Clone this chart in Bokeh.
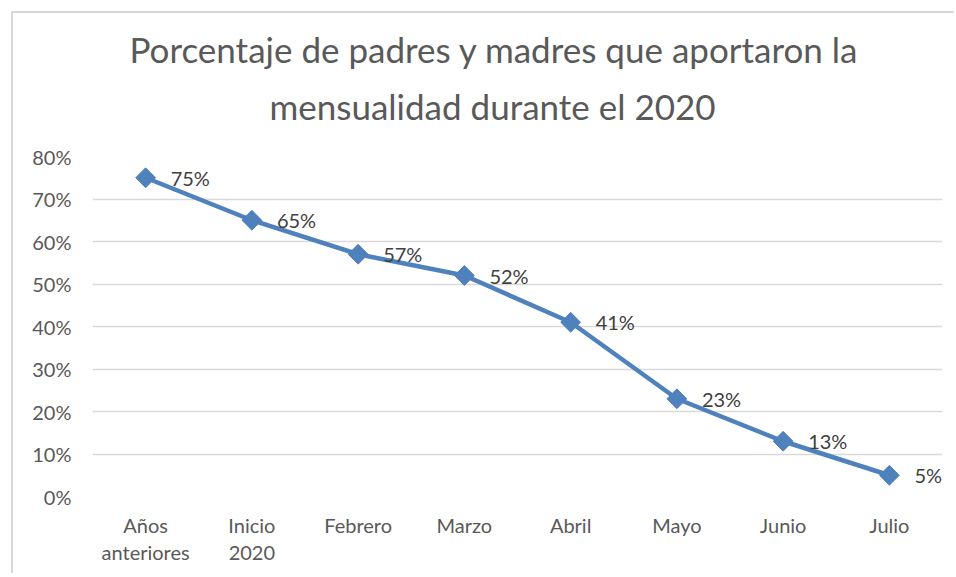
import math
from bokeh.plotting import figure
from bokeh.models import ColumnDataSource, Title, NumeralTickFormatter, FixedTicker
from bokeh.core.properties import value
from bokeh.embed import file_html
from bokeh.resources import INLINE

categories = ["Años\nanteriores", "Inicio\n2020", "Febrero", "Marzo", "Abril", "Mayo", "Junio", "Julio"]
values = [0.75, 0.65, 0.57, 0.52, 0.41, 0.23, 0.13, 0.05]
labels = ["75%", "65%", "57%", "52%", "41%", "23%", "13%", "5%"]
y_ticks = [0, 0.1, 0.2, 0.3, 0.4, 0.5, 0.6, 0.7, 0.8]
title_lines = ["Porcentaje de padres y madres que aportaron la", "mensualidad durante el 2020"]

FONT = "Lato"
W, H = 943, 562

src = ColumnDataSource(dict(x=categories, y=values, lab=labels))

p = figure(x_range=categories, y_range=(0, 0.8), width=W, height=H,
           output_backend="svg", toolbar_location=None,
           min_border_left=79, min_border_right=14, min_border_top=143, min_border_bottom=H - 483)
p.styles = {"margin-left": "11px", "margin-top": "11px",
            "border-left": "2px solid #d9d9d9", "border-top": "2px solid #d9d9d9"}
p.outline_line_color = None
p.background_fill_color = "white"
p.border_fill_color = "white"

p.xgrid.grid_line_color = None
p.ygrid.grid_line_color = "#d9d9d9"
p.ygrid.grid_line_width = 1.3

p.yaxis.ticker = FixedTicker(ticks=y_ticks)
p.yaxis.formatter = NumeralTickFormatter(format="0%")
for ax in (p.xaxis, p.yaxis):
    ax.axis_line_color = None
    ax.major_tick_line_color = None
    ax.minor_tick_line_color = None
    ax.major_label_text_font = FONT
    ax.major_label_text_font_size = "20px"
    ax.major_label_text_color = "#595959"
p.yaxis.major_label_standoff = 15
p.xaxis.major_label_standoff = 10
p.xaxis.major_label_text_line_height = 1.15

p.line("x", "y", source=src, line_color="#4F81BD", line_width=4.5)
p.scatter("x", "y", source=src, marker="square", angle=math.pi / 4, size=14,
          fill_color="#4F81BD", line_color="#4F81BD")
p.text("x", "y", text="lab", source=src, x_offset=25, text_align="left", text_baseline="middle",
       text_font=value(FONT), text_font_size="20px", text_color="#404040")

# second line is added first: it sits closest to the frame
p.add_layout(Title(text=title_lines[1], align="left", offset=177, standoff=59,
                   text_font=FONT, text_font_size="35px", text_color="#595959",
                   text_font_style="normal"), "above")
p.add_layout(Title(text=title_lines[0], align="left", offset=37, standoff=-33,
                   text_font=FONT, text_font_size="35px", text_color="#595959",
                   text_font_style="normal"), "above")

open("out.html", "w").write(file_html(p, INLINE))
